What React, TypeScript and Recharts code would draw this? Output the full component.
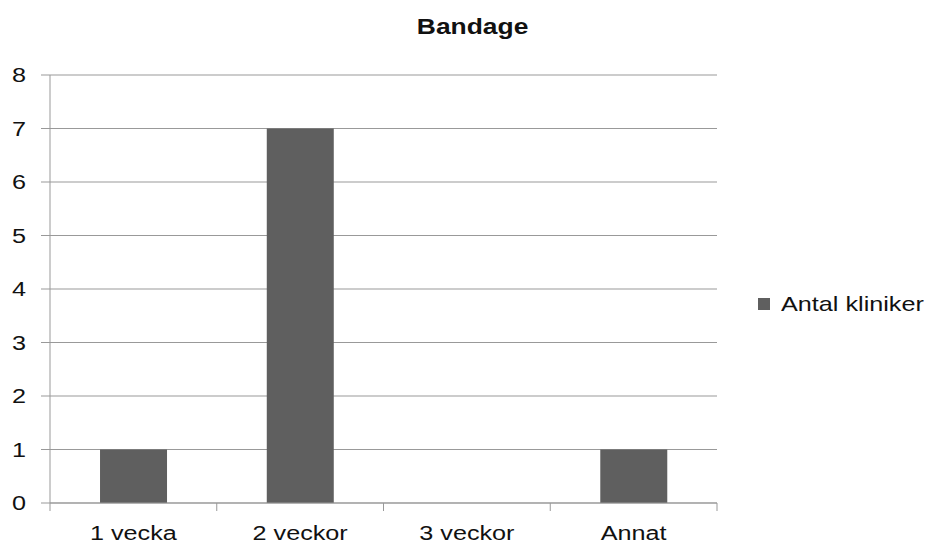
import React from "react";
import { BarChart, Bar, XAxis, YAxis, CartesianGrid, Legend } from "recharts";

const categories = ["1 vecka", "2 veckor", "3 veckor", "Annat"];
const clinics = [1, 7, 0, 1];
const yTicks = [0, 1, 2, 3, 4, 5, 6, 7, 8];

const data = categories.map((name, i) => ({ name, clinics: clinics[i] }));

const FONT = "'Liberation Sans', Arial, sans-serif";
const GRID = "#999999";
const BAR = "#5f5f5f";
const SX = 1.2; // reference text is horizontally stretched

const XTick = (props: any) => {
  const { x, y, payload, index } = props;
  const half = payload?.offset ?? 0;
  return (
    <g>
      {index === 0 && (
        <line x1={x - half} y1={y} x2={x - half} y2={y + 8} stroke={GRID} />
      )}
      <line x1={x + half} y1={y} x2={x + half} y2={y + 8} stroke={GRID} />
      <text
        transform={`translate(${x},${y + 30}) scale(${SX},1)`}
        textAnchor="middle"
        dominantBaseline="central"
        fontFamily={FONT}
        fontSize={21}
        fill="#111"
      >
        {payload.value}
      </text>
    </g>
  );
};

const YTick = (props: any) => {
  const { x, y, payload } = props;
  return (
    <text
      transform={`translate(${x + 1},${y}) scale(${SX},1)`}
      textAnchor="end"
      dominantBaseline="central"
      fontFamily={FONT}
      fontSize={21}
      fill="#111"
    >
      {payload.value}
    </text>
  );
};

const renderLegend = (props: any) => {
  const { payload } = props;
  return (
    <div style={{ fontFamily: FONT, fontSize: 21, color: "#111" }}>
      {(payload || []).map((p: any) => (
        <div key={p.value} style={{ display: "flex", alignItems: "center" }}>
          <span
            style={{
              display: "inline-block",
              width: 12,
              height: 12,
              background: p.color,
              marginRight: 11,
            }}
          />
          <span
            style={{
              display: "inline-block",
              transform: `scaleX(${SX})`,
              transformOrigin: "left center",
              whiteSpace: "nowrap",
            }}
          >
            {p.value}
          </span>
        </div>
      ))}
    </div>
  );
};

export default function App() {
  return (
    <div
      style={{
        position: "absolute",
        left: 0,
        top: 0,
        width: 930,
        height: 545,
        background: "#fff",
      }}
    >
      <div
        style={{
          position: "absolute",
          left: 0,
          width: 945,
          top: 14,
          textAlign: "center",
          fontFamily: FONT,
          fontSize: 22,
          fontWeight: "bold",
          color: "#111",
          transform: `scaleX(${SX})`,
          transformOrigin: "472px 0",
        }}
      >
        Bandage
      </div>
      <BarChart
        width={930}
        height={545}
        data={data}
        margin={{ top: 75, right: 213, bottom: 0, left: 5 }}
        barCategoryGap="30%"
      >
        <CartesianGrid vertical={false} stroke={GRID} />
        <XAxis
          dataKey="name"
          height={42}
          stroke={GRID}
          tickLine={false}
          tickSize={0}
          tickMargin={0}
          tick={<XTick />}
          interval={0}
        />
        <YAxis
          width={45}
          domain={[0, 8]}
          ticks={yTicks}
          stroke={GRID}
          tickSize={9}
          tickMargin={16}
          tick={<YTick />}
          interval={0}
        />
        <Legend
          layout="horizontal"
          verticalAlign="middle"
          align="center"
          content={renderLegend}
          wrapperStyle={{ left: 758, top: 292, width: 172 }}
        />
        <Bar
          dataKey="clinics"
          name="Antal kliniker"
          fill={BAR}
          isAnimationActive={false}
        />
      </BarChart>
    </div>
  );
}
